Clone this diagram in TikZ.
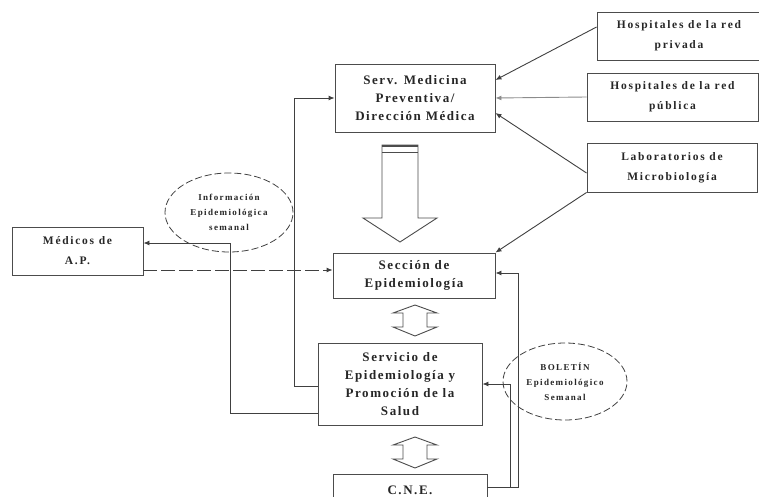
\documentclass[tikz,border=0pt]{standalone}
\usepackage{fontspec}
\setmainfont{Liberation Serif}
\newfontfamily\bxfont[LetterSpace=12]{Liberation Serif}
\newfontfamily\smfont[LetterSpace=15]{Liberation Serif}
\usetikzlibrary{arrows.meta,shapes.geometric}
\begin{document}
\begin{tikzpicture}[x=1pt,y=-1pt,
  box/.style={draw=black!70, line width=0.9pt, align=center, inner sep=0pt,
    font=\bxfont\bfseries\fontsize{13}{18}\selectfont, text=black!85},
  sbox/.style={box, font=\smfont\bfseries\fontsize{11.5}{20}\selectfont},
  oval/.style={ellipse, draw=black!75, line width=0.8pt, dash pattern=on 7pt off 3pt,
    inner sep=0pt},
  ovaltext/.style={align=center, inner sep=0pt,
    font=\smfont\bfseries\fontsize{9}{15}\selectfont, text=black!85},
  conn/.style={draw=black!75, line width=0.9pt},
  arr/.style={conn, -{Latex[length=6pt,width=5pt]}},
  hollow/.style={draw=black!70, line width=0.9pt, fill=white, line join=miter}
]
\useasboundingbox (0,0) rectangle (759,497);
\clip (0,0) rectangle (759,497);

% nodes
\node[box, minimum width=160pt, minimum height=68pt] (serv) at (415,98)
  {Serv. Medicina\\Preventiva/\\Dirección Médica};
\node[sbox, minimum width=164pt, minimum height=48pt] (priv) at (679,36)
  {Hospitales de la red\\privada};
\node[sbox, minimum width=171pt, minimum height=48pt] (pub) at (672.5,97)
  {Hospitales de la red\\pública};
\node[sbox, minimum width=170pt, minimum height=49pt] (lab) at (672,167.5)
  {Laboratorios de\\Microbiología};
\node[box, minimum width=162pt, minimum height=45pt] (sec) at (414,275.5)
  {Sección de\\Epidemiología};
\node[box, minimum width=164pt, minimum height=82pt] (servicio) at (400,384)
  {Servicio de\\Epidemiología y\\Promoción de la\\Salud};
\node[box, minimum width=154pt, minimum height=46pt, anchor=north] (cne) at (410,474) {};
\node[font=\bxfont\bfseries\fontsize{13}{18}\selectfont, text=black!85] (cnet) at (410,490) {C.N.E.};
\node[sbox, minimum width=131pt, minimum height=48pt] (med) at (77.5,251)
  {Médicos de\\A.P.};
\node[oval, minimum width=128pt, minimum height=79pt] (ei) at (229,212.5) {};
\node[ovaltext] (eit) at (ei.center) {Información\\Epidemiológica\\semanal};
\node[oval, minimum width=124pt, minimum height=77pt] (eb) at (565,381.5) {};
\node[ovaltext] (ebt) at (eb.center) {BOLETÍN\\Epidemiológico\\Semanal};

% big hollow arrow
\draw[hollow] (382,145) -- (418,145) -- (418,218) -- (437,218) -- (400,242)
  -- (363,218) -- (382,218) -- cycle;
\draw[draw=black!70, line width=2pt] (382,146.5) -- (418,146.5);
\draw[draw=black!70, line width=0.9pt] (382,152) -- (418,152);

% double arrows
\foreach \dy in {0,132}{
  \draw[hollow] (415,305+\dy) -- (437,313+\dy) -- (427,313+\dy) -- (427,327+\dy)
    -- (437,327+\dy) -- (415,336+\dy) -- (393,327+\dy) -- (403,327+\dy)
    -- (403,313+\dy) -- (393,313+\dy) -- cycle;
}

% connectors from the right boxes
\draw[arr] ([yshift=9pt]priv.west) -- ([yshift=18pt]serv.east);
\draw[arr, draw=black!45] (pub.west) -- (serv.east);
\draw[arr] ([yshift=-5.5pt]lab.west) -- ([yshift=-15pt]serv.east);
\draw[arr] (lab.south west) -- (sec.north east);

% left side connectors
\draw[arr, dash pattern=on 14pt off 4pt] ([yshift=-19pt]med.east) -- ([yshift=-19pt]med.east -| sec.west);
\draw[arr] ([yshift=-29pt]servicio.west) -- ++(-87pt,0) |- ([yshift=8pt]med.east);
\draw[arr] ([yshift=-2pt]servicio.west) -- ++(-23pt,0) |- (serv.west);

% bottom right connectors
\draw[arr] ([yshift=10pt]cne.east) -- ++(31pt,0) |- ([yshift=2.5pt]sec.east);
\draw[arr] ([yshift=10pt]cne.east) -- ++(23pt,0) |- (servicio.east);
\end{tikzpicture}
\end{document}
